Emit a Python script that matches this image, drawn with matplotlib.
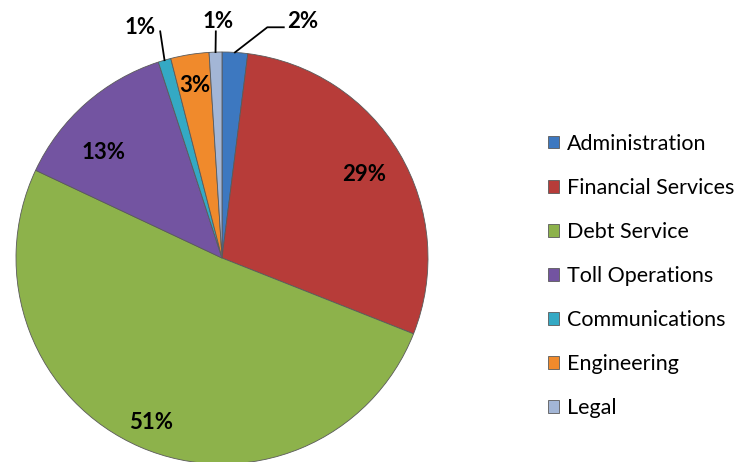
import matplotlib.pyplot as plt
import numpy as np

# budget shares (percent)
categories = ['Administration', 'Financial Services', 'Debt Service', 'Toll Operations',
              'Communications', 'Engineering', 'Legal']
shares = [2, 29, 51, 13, 1, 3, 1]
colors = ['#3d78c0', '#b73c39', '#8db24b', '#7354a1', '#34a9c4', '#f08a2c', '#a3b6d6']

plt.rcParams['font.family'] = ['Lato', 'DejaVu Sans']

fig = plt.figure(figsize=(7.44, 4.62), dpi=100)
cx, cy, r = 222, 204, 206  # pixel centre (from bottom) and radius
ax = fig.add_axes([(cx - r) / 744, (cy - r) / 462, 2 * r / 744, 2 * r / 462])

wedges, _ = ax.pie(shares, colors=colors, startangle=90, counterclock=False, radius=1,
                   wedgeprops=dict(edgecolor='#5a5a5a', linewidth=0.6))
ax.set_xlim(-1, 1)
ax.set_ylim(-1, 1)
ax.set_aspect('equal')
ax.axis('off')

# label placement: distance from centre for inside labels, leader lines for outside ones
inside = {'Financial Services': 0.8, 'Debt Service': 0.87, 'Toll Operations': 0.77, 'Engineering': 0.85}
outside = {'Administration': [(0.22, 1.12), (0.3, 1.12)],
           'Legal': [(-0.03, 1.1)],
           'Communications': [(-0.3, 1.1)]}
text_pos = {'Administration': (0.315, 1.15), 'Legal': (-0.02, 1.15), 'Communications': (-0.4, 1.12)}
angle_shift = {'Toll Operations': 7}

for w, name, val in zip(wedges, categories, shares):
    th = np.deg2rad((w.theta1 + w.theta2) / 2 + angle_shift.get(name, 0))
    lab = f'{val}%'
    if name in inside:
        d = inside[name]
        ax.text(d * np.cos(th), d * np.sin(th), lab, ha='center', va='center',
                fontsize=16, fontweight='bold')
    else:
        pts = [(np.cos(th), np.sin(th))] + outside[name]
        xs, ys = zip(*pts)
        ax.plot(xs, ys, color='black', lw=1.3, clip_on=False)
        tx, ty = text_pos[name]
        ha = 'left' if name == 'Administration' else 'center'
        ax.text(tx, ty, lab, ha=ha, va='center', fontsize=16, fontweight='bold')

leg = fig.legend(wedges, categories, loc='upper left', bbox_to_anchor=(539 / 744, 1 - 125 / 462),
                 frameon=False, fontsize=15.5, handlelength=0.55, handleheight=0.55,
                 handletextpad=0.35, labelspacing=1.12, borderaxespad=0)

fig.savefig('out.png', dpi=100)
